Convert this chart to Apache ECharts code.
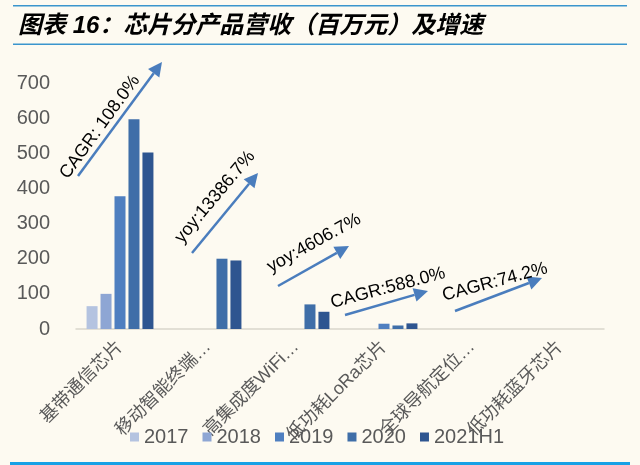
<!DOCTYPE html>
<html>
<head>
<meta charset="utf-8">
<script src="https://cdn.jsdelivr.net/npm/echarts@6/dist/echarts.min.js"></script>
<style>
  html, body { margin: 0; padding: 0; background: #fdfaf1; }
  #main { width: 640px; height: 465px; }
</style>
</head>
<body>
<div id="main"></div>
<script>
	// 类目与各年份营收（百万元）
	var categories = ['基带通信芯片', '移动智能终端…', '高集成度WiFi…', '低功耗LoRa芯片', '全球导航定位…', '低功耗蓝牙芯片'];
	var years = ['2017', '2018', '2019', '2020', '2021H1'];
	var v2017 = [65, 0, 0, 0, 0, 0];
	var v2018 = [100, 0, 0, 0, 0, 0];
	var v2019 = [378, 0, 0, 15, 0, 0];
	var v2020 = [597, 200, 70, 10, 0, 0];
	var v2021H1 = [502, 195, 49, 16, 0, 0];
	var yTicks = [0, 100, 200, 300, 400, 500, 600, 700];

	// 增速标注
	var notes = ['CAGR: 108.0%', 'yoy:13386.7%', 'yoy:4606.7%', 'CAGR:588.0%', 'CAGR:74.2%'];

	var colors = ['#b4c3e0', '#8ea6d4', '#4f7fc0', '#3f6ea8', '#2e5590'];
	var font = "'Liberation Sans', 'Noto Sans CJK SC', sans-serif";
	var arrowColor = '#4a7dbd';

	function arrow(x1, y1, x2, y2){
		var dx = x2 - x1, dy = y2 - y1;
		var len = Math.sqrt(dx * dx + dy * dy);
		var ux = dx / len, uy = dy / len;
		var hl = 14, hw = 7;
		var bx = x2 - ux * hl, by = y2 - uy * hl;
		return [
			{ type: 'line', shape: { x1: x1, y1: y1, x2: bx, y2: by },
			  style: { stroke: arrowColor, lineWidth: 2.5 } },
			{ type: 'polygon', shape: { points: [[x2, y2], [bx - uy * hw, by + ux * hw], [bx + uy * hw, by - ux * hw]] },
			  style: { fill: arrowColor } }
		];
	}
	function note(text, x, y, deg){
		return { type: 'text', x: x, y: y, rotation: deg * Math.PI / 180,
			style: { text: text, fontSize: 18, fontFamily: font, fill: '#000',
				align: 'center', verticalAlign: 'middle' } };
	}

	var graphics = [
		{ type: 'rect', shape: { x: 13, y: 5, width: 614, height: 1.6 }, style: { fill: '#3b95cd' } },
		{ type: 'rect', shape: { x: 13, y: 43.5, width: 614, height: 1.6 }, style: { fill: '#3b95cd' } },
		{ type: 'rect', shape: { x: 10, y: 462, width: 620, height: 3 }, style: { fill: '#16a1e6' } }
	];
	graphics = graphics
		.concat(arrow(78, 176, 162, 62))
		.concat(arrow(192, 253, 258, 173))
		.concat(arrow(278, 286, 349, 246))
		.concat(arrow(345, 315, 428, 291))
		.concat(arrow(455, 311, 542, 278));
	graphics.push(note(notes[0], 100, 127, 54));
	graphics.push(note(notes[1], 215, 197, 50));
	graphics.push(note(notes[2], 314, 243, 29));
	graphics.push(note(notes[3], 388, 288, 15));
	graphics.push(note(notes[4], 495, 282, 15));

	var values = [v2017, v2018, v2019, v2020, v2021H1];
	var series = [];
	for (var i = 0; i < years.length; i++){
		series.push({
			name: years[i],
			type: 'bar',
			data: values[i],
			barWidth: 11,
			barGap: '27%',
			itemStyle: { color: colors[i] }
		});
	}

	var myChart = echarts.init(document.getElementById('main'));
	var option = {
		backgroundColor: '#fdfaf1',
		animation: false,
		title: {
			text: '图表 16：芯片分产品营收（百万元）及增速',
			left: 13,
			top: 9,
			textStyle: { fontSize: 24, fontStyle: 'italic', fontWeight: 'bold', color: '#000', fontFamily: font }
		},
		grid: { left: 76, right: 36, top: 83, bottom: 136 },
		legend: {
			data: years,
			left: 130,
			top: 427,
			itemWidth: 9,
			itemHeight: 9,
			itemGap: 14,
			padding: 0,
			icon: 'rect',
			textStyle: { fontSize: 20, color: '#595959', fontFamily: font }
		},
		xAxis: {
			type: 'category',
			data: categories,
			axisTick: { show: false },
			axisLine: { lineStyle: { color: '#d9d6cc', width: 1.5 } },
			axisLabel: { interval: 0, rotate: 45, margin: 15, fontSize: 18, color: '#595959', fontFamily: font }
		},
		yAxis: {
			type: 'value',
			min: yTicks[0],
			max: yTicks[yTicks.length - 1],
			interval: 100,
			splitLine: { show: false },
			axisLine: { show: false },
			axisTick: { show: false },
			axisLabel: { margin: 26, fontSize: 20, color: '#595959', fontFamily: font }
		},
		series: series,
		graphic: graphics
	};
	myChart.setOption(option);
</script>
</body>
</html>
